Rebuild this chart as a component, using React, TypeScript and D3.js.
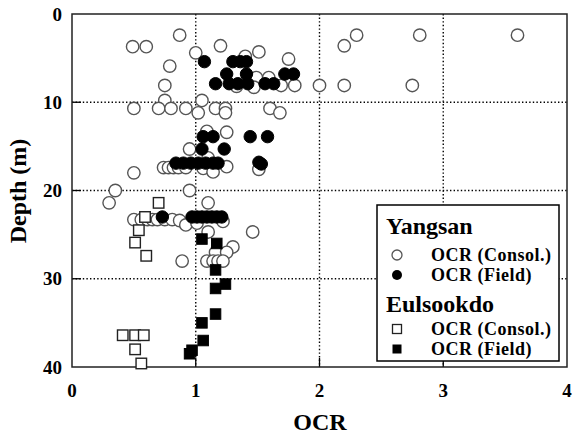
import React from "react";
import * as d3 from "d3";

const W = 573;
const H = 437;

// Yangsan – OCR (Consol.)  [OCR, depth]
const yangsanConsol: [number, number][] = [
  [0.87, 2.4], [2.30, 2.4], [2.81, 2.4], [3.60, 2.4],
  [0.49, 3.7], [0.60, 3.7], [1.20, 3.6], [2.20, 3.6],
  [1.00, 4.4], [1.51, 4.3], [1.40, 4.8],
  [1.75, 5.1], [0.79, 5.9],
  [1.49, 7.2], [1.59, 7.2],
  [0.75, 8.1], [1.33, 8.2], [1.47, 8.3], [1.69, 8.1], [1.80, 8.1], [2.00, 8.1], [2.20, 8.1], [2.75, 8.1],
  [0.75, 9.8], [1.05, 9.8],
  [0.50, 10.7], [0.70, 10.7], [0.80, 10.7], [0.92, 10.7], [1.16, 10.7], [1.24, 10.7], [1.60, 10.7],
  [1.02, 11.2], [1.24, 11.2], [1.68, 11.2],
  [1.09, 13.3], [1.25, 13.4],
  [0.95, 15.3], [1.10, 16.3],
  [0.74, 17.4], [0.78, 17.4], [0.82, 17.4], [0.86, 17.4], [0.92, 17.4], [1.06, 17.5], [1.25, 17.3], [1.51, 17.6],
  [0.50, 18.0], [1.14, 17.9],
  [0.35, 20.0], [0.95, 20.0],
  [0.30, 21.4], [1.10, 21.4],
  [0.50, 23.3], [0.56, 23.3], [0.61, 23.3], [0.65, 23.3], [0.69, 23.3], [0.75, 23.3], [0.81, 23.3], [0.87, 23.4], [0.92, 23.9], [1.01, 23.7], [1.22, 23.5],
  [1.10, 24.7], [1.46, 24.7],
  [1.30, 26.4],
  [1.16, 27.0], [1.25, 27.0],
  [0.89, 28.0], [1.09, 28.0], [1.14, 28.0], [1.18, 28.0], [1.22, 28.0],
];

// Yangsan – OCR (Field)
const yangsanField: [number, number][] = [
  [1.07, 5.4], [1.30, 5.4], [1.36, 5.4], [1.41, 5.4],
  [1.25, 6.8], [1.41, 6.8], [1.72, 6.8], [1.79, 6.8],
  [1.16, 7.9], [1.27, 7.9], [1.34, 7.9], [1.42, 7.9], [1.56, 7.9], [1.63, 7.9],
  [1.06, 13.9], [1.14, 13.9], [1.44, 13.9], [1.58, 13.9],
  [1.05, 15.3], [1.23, 15.3],
  [0.84, 16.9], [0.90, 16.9], [0.96, 16.9], [1.02, 16.9], [1.08, 16.9], [1.14, 16.9], [1.18, 16.9], [1.51, 16.8], [1.53, 17.0],
  [0.73, 23.0], [0.97, 23.0], [1.01, 23.0], [1.05, 23.0], [1.09, 23.0], [1.13, 23.0], [1.17, 23.0], [1.21, 23.0],
];

// Eulsookdo – OCR (Consol.)
const eulsookdoConsol: [number, number][] = [
  [0.70, 21.4], [0.59, 23.0], [0.54, 24.5], [0.51, 25.9], [0.60, 27.4],
  [0.41, 36.4], [0.51, 36.4], [0.58, 36.4], [0.51, 38.0], [0.56, 39.6],
];

// Eulsookdo – OCR (Field)
const eulsookdoField: [number, number][] = [
  [1.05, 25.5], [1.17, 26.0], [1.16, 29.0], [1.24, 30.6], [1.16, 31.1],
  [1.16, 34.0], [1.05, 35.0], [1.06, 37.0], [0.97, 38.1], [0.95, 38.5],
];

const xTicks = [0, 1, 2, 3, 4];
const yTicks = [0, 10, 20, 30, 40];
const xGrid = [1, 2, 3];
const yGrid = [10, 20, 30];

const FONT = "'Liberation Serif', serif";
const T: React.CSSProperties = { fontFamily: FONT, fontWeight: 700 };
const TL: React.CSSProperties = { fontFamily: FONT, fontWeight: 700, letterSpacing: "0.5px" };

export default function App() {
  const x = d3.scaleLinear().domain([0, 4]).range([72, 567]);
  const y = d3.scaleLinear().domain([0, 40]).range([14, 367]);
  const r = 6.2;
  const s = 10.5;

  return (
    <svg
      width={W}
      height={H}
      style={{ position: "absolute", left: 0, top: 0, background: "#fff" }}
    >
      <rect x={0} y={0} width={W} height={H} fill="#fff" />
      {xGrid.map((v) => (
        <line key={"gx" + v} x1={x(v)} x2={x(v)} y1={y(0)} y2={y(40)} stroke="#000" strokeWidth={1.4} strokeDasharray="1.4 2.2" />
      ))}
      {yGrid.map((v) => (
        <line key={"gy" + v} x1={x(0)} x2={x(4)} y1={y(v)} y2={y(v)} stroke="#000" strokeWidth={1.4} strokeDasharray="1.4 2.2" />
      ))}
      {xGrid.map((v) => (
        <line key={"tx" + v} x1={x(v)} x2={x(v)} y1={y(40)} y2={y(40) - 9} stroke="#000" strokeWidth={1.3} />
      ))}
      {yGrid.map((v) => (
        <line key={"ty" + v} x1={x(0)} x2={x(0) + 9} y1={y(v)} y2={y(v)} stroke="#000" strokeWidth={1.3} />
      ))}
      <rect x={x(0)} y={y(0)} width={x(4) - x(0)} height={y(40) - y(0)} fill="none" stroke="#222" strokeWidth={1.5} />

      {yangsanConsol.map((d, i) => (
        <circle key={"yc" + i} cx={x(d[0])} cy={y(d[1])} r={r} fill="#fff" stroke="#555" strokeWidth={1.4} />
      ))}
      {yangsanField.map((d, i) => (
        <circle key={"yf" + i} cx={x(d[0])} cy={y(d[1])} r={r} fill="#000" stroke="#000" strokeWidth={1} />
      ))}
      {eulsookdoConsol.map((d, i) => (
        <rect key={"ec" + i} x={x(d[0]) - s / 2} y={y(d[1]) - s / 2} width={s} height={s} fill="#fff" stroke="#222" strokeWidth={1.4} />
      ))}
      {eulsookdoField.map((d, i) => (
        <rect key={"ef" + i} x={x(d[0]) - s / 2} y={y(d[1]) - s / 2} width={s} height={s} fill="#000" stroke="#000" strokeWidth={1} />
      ))}

      {xTicks.map((v) => (
        <text key={"lx" + v} x={x(v)} y={397} textAnchor="middle" fontSize={19} style={T}>{v}</text>
      ))}
      {yTicks.map((v) => (
        <text key={"ly" + v} x={62} y={y(v) + 6.5} textAnchor="end" fontSize={19} style={T}>{v}</text>
      ))}
      <text x={320} y={430} textAnchor="middle" fontSize={24} style={T}>OCR</text>
      <text transform={`translate(26,191) rotate(-90)`} textAnchor="middle" fontSize={24} style={T}>Depth  (m)</text>

      <rect x={377} y={205} width={182} height={156} fill="#fff" stroke="#000" strokeWidth={1.5} />
      <text x={386} y={234} fontSize={24} style={T}>Yangsan</text>
      <circle cx={397} cy={255} r={5} fill="#fff" stroke="#555" strokeWidth={1.3} />
      <text x={431} y={261} fontSize={18} style={TL}>OCR (Consol.)</text>
      <circle cx={397} cy={275} r={5} fill="#000" />
      <text x={431} y={281} fontSize={18} style={TL}>OCR (Field)</text>
      <text x={386} y={312} fontSize={24} style={T}>Eulsookdo</text>
      <rect x={392.5} y={324.5} width={9} height={9} fill="#fff" stroke="#222" strokeWidth={1.3} />
      <text x={431} y={335} fontSize={18} style={TL}>OCR (Consol.)</text>
      <rect x={392.5} y={344.5} width={9} height={9} fill="#000" />
      <text x={431} y={355} fontSize={18} style={TL}>OCR (Field)</text>
    </svg>
  );
}
